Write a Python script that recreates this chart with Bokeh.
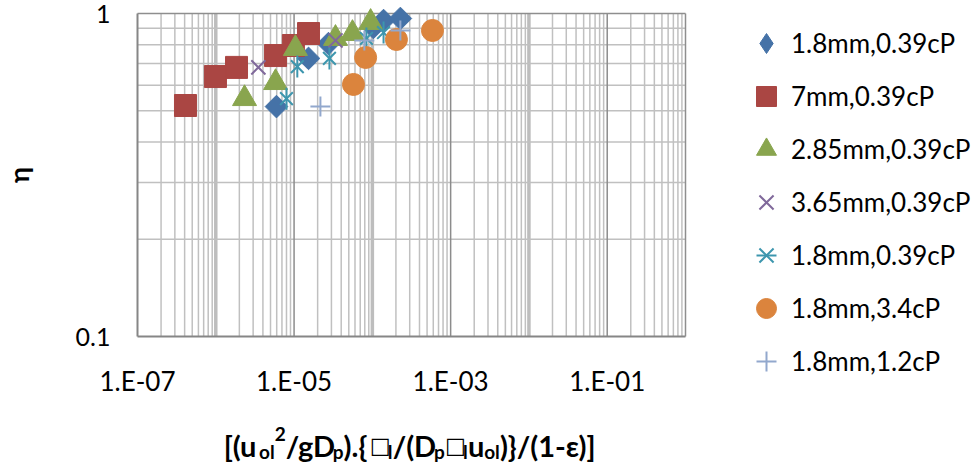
import numpy as np
from bokeh.plotting import figure
from bokeh.models import (Range1d, FixedTicker, CustomJSTickFormatter,
                          Legend, LegendItem, Label)
from bokeh.embed import file_html
from bokeh.resources import INLINE

# ---- data: packing efficiency vs. dimensionless group ----
s1_x = [5.96e-6, 1.53e-5, 2.75e-5, 1.03e-4, 1.39e-4, 2.28e-4]   # 1.8mm, 0.39cP
s1_y = [0.515, 0.726, 0.807, 0.905, 0.951, 0.965]

s2_x = [4.1e-7, 9.9e-7, 1.84e-6, 5.8e-6, 9.8e-6, 1.53e-5]       # 7mm, 0.39cP
s2_y = [0.519, 0.638, 0.681, 0.741, 0.796, 0.867]

s3_x = [2.33e-6, 5.8e-6, 1.04e-5, 3.38e-5, 5.57e-5, 9.5e-5]     # 2.85mm, 0.39cP
s3_y = [0.545, 0.611, 0.779, 0.837, 0.867, 0.938]

s4_x = [3.5e-6, 3.38e-5]                                         # 3.65mm, 0.39cP
s4_y = [0.681, 0.825]

s5_x = [8.0e-6, 1.1e-5, 2.83e-5, 8.4e-5, 1.39e-4]               # 1.8mm, 0.39cP (repeat)
s5_y = [0.545, 0.685, 0.726, 0.837, 0.873]

s6_x = [5.74e-5, 8.2e-5, 2.03e-4, 5.86e-4]                       # 1.8mm, 3.4cP
s6_y = [0.603, 0.731, 0.831, 0.886]

s7_x = [2.17e-5, 7.9e-5, 2.28e-4]                                # 1.8mm, 1.2cP
s7_y = [0.515, 0.825, 0.886]

labels = ["1.8mm,0.39cP", "7mm,0.39cP", "2.85mm,0.39cP", "3.65mm,0.39cP",
          "1.8mm,0.39cP", "1.8mm,3.4cP", "1.8mm,1.2cP"]
colors = ["#4572A7", "#AA4643", "#89A54E", "#80699B", "#3D96AE", "#DB843D", "#92A8CD"]

x_lo, x_hi = 1e-7, 1.0
y_lo, y_hi = 0.1, 1.0
x_ticks = [1e-7, 1e-5, 1e-3, 1e-1]
y_ticks = [0.1, 1.0]

FONT = "Lato"
W_PX, H_PX = 979, 468
# plot rectangle on the canvas (pixels): left, right, top, bottom
PL, PR, PT, PB = 137, 685, 13, 336

# the frame covers the whole canvas; ranges are widened so the plot
# rectangle above maps exactly onto [x_lo, x_hi] x [y_lo, y_hi]
dec_x = (PR - PL) / np.log10(x_hi / x_lo)
dec_y = (PB - PT) / np.log10(y_hi / y_lo)
x_range = Range1d(x_lo * 10 ** (-PL / dec_x), x_hi * 10 ** ((W_PX - PR) / dec_x))
y_range = Range1d(y_lo * 10 ** (-(H_PX - PB) / dec_y), y_hi * 10 ** (PT / dec_y))

p = figure(width=W_PX, height=H_PX, x_axis_type="log", y_axis_type="log",
           x_range=x_range, y_range=y_range,
           output_backend="svg", toolbar_location=None, min_border=0)
p.background_fill_color = "white"
p.border_fill_color = "white"
p.outline_line_color = None
p.grid.visible = False

# ---- axes, pinned to the plot rectangle ----
x_minor = [k * 10.0 ** n for n in range(-7, 0) for k in range(2, 10)]
y_minor = [k / 10 for k in range(2, 10)]
p.xaxis.ticker = FixedTicker(ticks=x_ticks)
p.yaxis.ticker = FixedTicker(ticks=y_ticks)
p.xaxis.formatter = CustomJSTickFormatter(code="""
    const e = Math.round(Math.log10(tick));
    const s = (e < 0 ? '-' : '+') + String(Math.abs(e)).padStart(2, '0');
    return '1.E' + s;
""")
p.yaxis.formatter = CustomJSTickFormatter(code="return String(Number(tick.toPrecision(3)));")
p.xaxis.fixed_location = y_lo
p.yaxis.fixed_location = x_lo
p.xaxis.bounds = (x_lo, x_hi)
p.yaxis.bounds = (y_lo, y_hi)

for ax in (p.xaxis, p.yaxis):
    ax.axis_line_color = "#868686"
    ax.axis_line_width = 2
    ax.major_tick_line_color = None
    ax.minor_tick_line_color = None
    ax.major_label_text_font = FONT
    ax.major_label_text_color = "black"

p.xaxis.major_label_text_font_size = "26px"
p.yaxis.major_label_text_font_size = "25px"
p.xaxis.major_label_standoff = 22
p.yaxis.major_label_standoff = 21
p.yaxis.axis_label = "η"
p.yaxis.axis_label_text_font = FONT
p.yaxis.axis_label_text_font_style = "bold"
p.yaxis.axis_label_text_font_size = "27px"
p.yaxis.axis_label_text_color = "black"
p.yaxis.axis_label_standoff = 38

# ---- grid lines, limited to the plot rectangle ----
odd_dec = [1e-6, 1e-4, 1e-2]
even_dec = [1e-5, 1e-3, 1e-1]


def vlines(xs, color, width):
    p.segment(x0=xs, y0=[y_lo] * len(xs), x1=xs, y1=[y_hi] * len(xs),
              line_color=color, line_width=width, level="underlay")


def hlines(ys, color, width):
    p.segment(x0=[x_lo] * len(ys), y0=ys, x1=[x_hi] * len(ys), y1=ys,
              line_color=color, line_width=width, level="underlay")


vlines(x_minor, "#C0C0C0", 1.5)
vlines(odd_dec, "#BDBDBD", 3.5)
hlines(y_minor, "#C0C0C0", 1.5)
vlines(even_dec, "#8C8C8C", 1.5)
vlines([x_hi], "#8E8E8E", 1.5)
hlines([y_hi], "#8E8E8E", 1.5)

# ---- series ----
r1 = p.scatter(s1_x, s1_y, marker="square", angle=np.pi / 4, size=16,
               fill_color=colors[0], line_color=colors[0])
# diamond-shaped twin of series 1, hidden in the plot, used for its legend swatch
r1_key = p.scatter(s1_x, s1_y, marker="diamond", size=22, visible=False,
                   fill_color=colors[0], line_color=colors[0])
r2 = p.scatter(s2_x, s2_y, marker="square", size=22,
               fill_color=colors[1], line_color=colors[1])
r3 = p.scatter(s3_x, s3_y, marker="triangle", size=24,
               fill_color=colors[2], line_color=colors[2])
r4 = p.scatter(s4_x, s4_y, marker="x", size=20, line_color=colors[3], line_width=2)
r5a = p.scatter(s5_x, s5_y, marker="x", size=18, line_color=colors[4], line_width=2)
r5b = p.scatter(s5_x, s5_y, marker="dash", angle=np.pi / 2, size=22,
                line_color=colors[4], line_width=2)
r6 = p.scatter(s6_x, s6_y, marker="circle", size=22,
               fill_color=colors[5], line_color=colors[5])
r7 = p.scatter(s7_x, s7_y, marker="cross", size=20, line_color=colors[6], line_width=2)

# ---- legend: one column, rows 53 px apart, first row centred at y=43 ----
GLYPH, GAP = 50, 3
n_items = len(labels)
legend_h = n_items * GLYPH + (n_items - 1) * GAP
legend_top = 43 - GLYPH / 2
legend = Legend(items=[LegendItem(label=labels[0], renderers=[r1_key]),
                       LegendItem(label=labels[1], renderers=[r2]),
                       LegendItem(label=labels[2], renderers=[r3]),
                       LegendItem(label=labels[3], renderers=[r4]),
                       LegendItem(label=labels[4], renderers=[r5a, r5b]),
                       LegendItem(label=labels[5], renderers=[r6]),
                       LegendItem(label=labels[6], renderers=[r7])],
                location=(766 - GLYPH / 2, H_PX - (legend_top + legend_h)),
                ncols=1, glyph_width=GLYPH, glyph_height=GLYPH, spacing=GAP,
                padding=0, margin=0, label_standoff=0, label_height=20,
                border_line_color=None, background_fill_alpha=0,
                label_text_font=FONT, label_text_font_size="26px",
                label_text_color="black", click_policy="none")
p.add_layout(legend)

# ---- x-axis title, built from pieces (sub/superscripts) ----
MAIN, SUB = 29, 19
W = {'[': 0.33, '(': 0.33, ')': 0.33, ']': 0.33, '{': 0.33, '}': 0.33,
     'u': 0.56, 'o': 0.57, 'l': 0.26, '2': 0.58, '/': 0.37, 'g': 0.52,
     'D': 0.73, 'p': 0.57, '.': 0.24, '1': 0.58, '-': 0.37, 'ε': 0.46}
BOX_W = 18
pieces = [("[(u", "main"), ("ol", "sub"), ("2", "sup"), ("/gD", "main"),
          ("p", "sub"), (").{", "main"), ("\u25A1", "box"), ("l", "sub"),
          ("/(D", "main"), ("p", "sub"), ("\u25A1", "box"), ("l", "sub"),
          ("u", "main"), ("ol", "sub"), (")}/(1-ε)]", "main")]


def piece_width(txt, kind):
    if kind == "box":
        return BOX_W
    size = MAIN if kind == "main" else SUB
    return sum(W.get(c, 0.5) for c in txt) * size


widths = [piece_width(txt, kind) for txt, kind in pieces]
total = sum(widths)
x = (PL + PR) / 2 - total / 2
base = H_PX - 445
for (txt, kind), w in zip(pieces, widths):
    if kind == "main":
        lab = Label(x=x, y=base, text=txt, text_font_size=f"{MAIN}px")
    elif kind == "sub":
        lab = Label(x=x, y=base - 6, text=txt, text_font_size=f"{SUB}px")
    elif kind == "sup":
        lab = Label(x=x, y=base + 12, text=txt, text_font_size=f"{SUB}px")
    else:
        lab = Label(x=x, y=base, text=txt, text_font_size="22px")
    lab.x_units = "screen"
    lab.y_units = "screen"
    lab.text_font = FONT if kind != "box" else "DejaVu Sans"
    lab.text_font_style = "bold" if kind != "box" else "normal"
    lab.text_baseline = "alphabetic"
    lab.text_align = "left"
    lab.text_color = "black"
    p.add_layout(lab)
    x += w

open("out.html", "w").write(file_html(p, INLINE))
